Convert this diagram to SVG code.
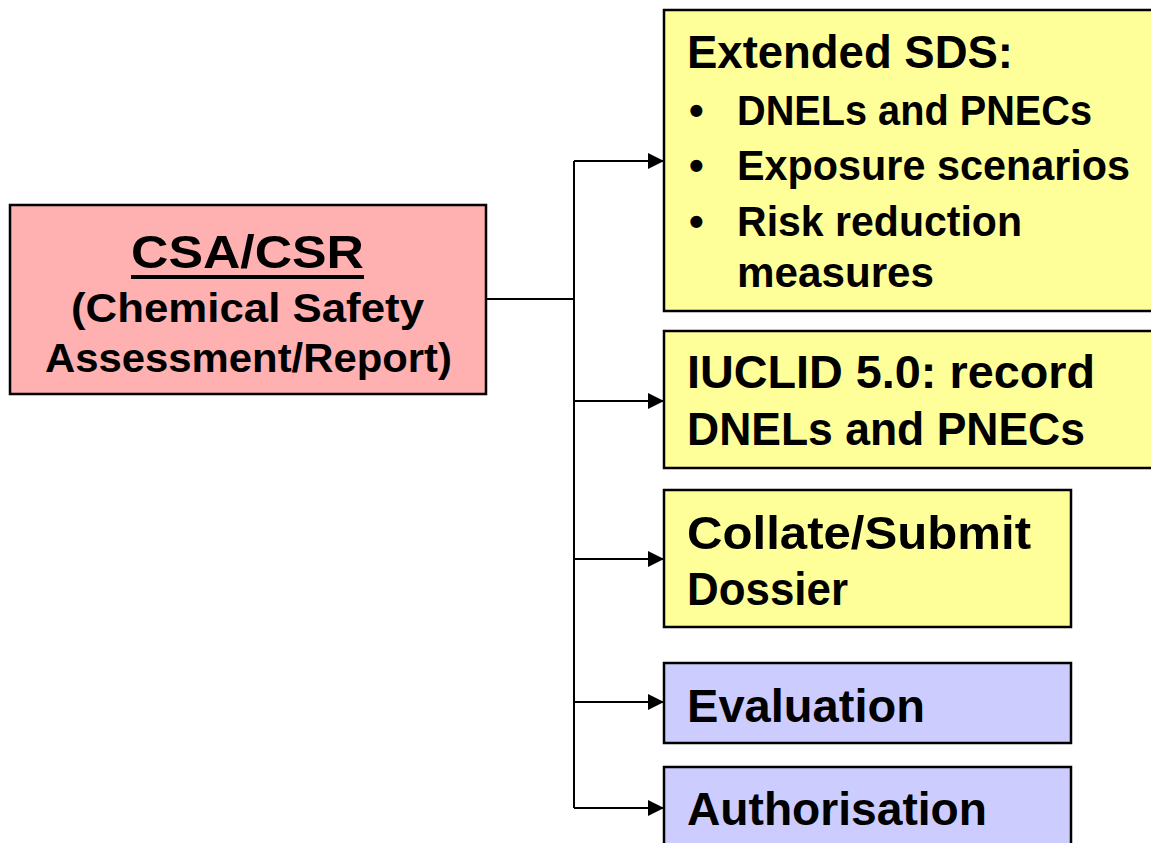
<svg xmlns="http://www.w3.org/2000/svg" width="1151" height="843" viewBox="0 0 1151 843">
<style>
.box{stroke:#000;stroke-width:2.5}
.pink{fill:#FFB0B0}
.yel{fill:#FFFF99}
.blu{fill:#CCCCFF}
.t{font-family:"Liberation Sans",Arial,sans-serif;font-weight:bold;fill:#000}
.big{font-size:47px}
.mid{font-size:42px}
.lft{font-size:41px}
.con{fill:none;stroke:#000;stroke-width:2}
</style>
<defs>
<marker id="arr" markerUnits="userSpaceOnUse" markerWidth="18" markerHeight="16" refX="16" refY="8" orient="auto">
<path d="M0,0 L16,8 L0,16 Z" fill="#000"/>
</marker>
</defs>
<rect width="1151" height="843" fill="#fff"/>
<g id="connectors">
<path class="con" d="M486,299 H574"/>
<path class="con" d="M574,161 V808"/>
<path class="con" d="M574,161 H664" marker-end="url(#arr)"/>
<path class="con" d="M574,401 H664" marker-end="url(#arr)"/>
<path class="con" d="M574,559 H664" marker-end="url(#arr)"/>
<path class="con" d="M574,702 H664" marker-end="url(#arr)"/>
<path class="con" d="M574,808 H664" marker-end="url(#arr)"/>
</g>
<g id="csa">
<rect class="box pink" x="10" y="205" width="476" height="189"/>
<text class="t big" x="131" y="268" textLength="233" lengthAdjust="spacingAndGlyphs">CSA/CSR</text>
<line x1="131" y1="277" x2="364" y2="277" stroke="#000" stroke-width="4"/>
<text class="t lft" x="71" y="322" textLength="353" lengthAdjust="spacingAndGlyphs">(Chemical Safety</text>
<text class="t lft" x="45" y="372" textLength="407" lengthAdjust="spacingAndGlyphs">Assessment/Report)</text>
</g>
<g id="sds">
<rect class="box yel" x="664" y="10" width="500" height="301"/>
<text class="t big" x="687" y="68" textLength="326" lengthAdjust="spacingAndGlyphs">Extended SDS:</text>
<text class="t mid" x="689" y="125">•</text>
<text class="t mid" x="737" y="125" textLength="355" lengthAdjust="spacingAndGlyphs">DNELs and PNECs</text>
<text class="t mid" x="689" y="180">•</text>
<text class="t mid" x="737" y="180" textLength="393" lengthAdjust="spacingAndGlyphs">Exposure scenarios</text>
<text class="t mid" x="689" y="236">•</text>
<text class="t mid" x="737" y="236" textLength="285" lengthAdjust="spacingAndGlyphs">Risk reduction</text>
<text class="t mid" x="737" y="287" textLength="197" lengthAdjust="spacingAndGlyphs">measures</text>
</g>
<g id="iuclid">
<rect class="box yel" x="664" y="331" width="500" height="137"/>
<text class="t big" x="687" y="388" textLength="408" lengthAdjust="spacingAndGlyphs">IUCLID 5.0: record</text>
<text class="t big" x="687" y="445" textLength="398" lengthAdjust="spacingAndGlyphs">DNELs and PNECs</text>
</g>
<g id="collate">
<rect class="box yel" x="664" y="490" width="407" height="137"/>
<text class="t big" x="687" y="549" textLength="344" lengthAdjust="spacingAndGlyphs">Collate/Submit</text>
<text class="t big" x="687" y="605" textLength="161" lengthAdjust="spacingAndGlyphs">Dossier</text>
</g>
<g id="evaluation">
<rect class="box blu" x="664" y="663" width="407" height="80"/>
<text class="t big" x="687" y="722" textLength="238" lengthAdjust="spacingAndGlyphs">Evaluation</text>
</g>
<g id="authorisation">
<rect class="box blu" x="664" y="767" width="407" height="100"/>
<text class="t big" x="687" y="825" textLength="300" lengthAdjust="spacingAndGlyphs">Authorisation</text>
</g>
</svg>
